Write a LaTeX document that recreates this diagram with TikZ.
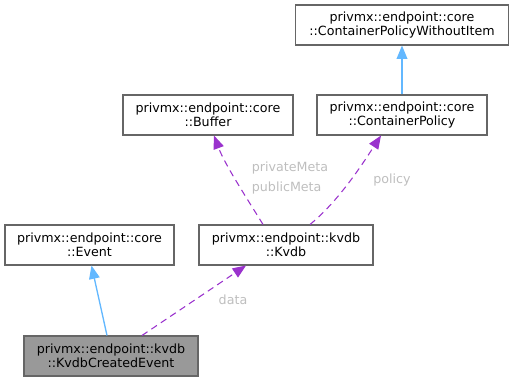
\documentclass[tikz,border=0pt]{standalone}
\usepackage{fontspec}
\setmainfont{DejaVu Sans}
\usetikzlibrary{arrows.meta}
\definecolor{inhblue}{HTML}{63B8FF}
\definecolor{usepurple}{HTML}{9A32CD}
\definecolor{lblgray}{HTML}{BEBEBE}
\definecolor{boxgray}{HTML}{666666}
\begin{document}
\begin{tikzpicture}[x=0.75pt,y=-0.75pt,
  cls/.style={draw=boxgray,line width=0.8pt,fill=white,inner sep=0pt,align=center,
    font=\fontsize{9.5}{10.6}\selectfont,text=black},
  inh/.style={draw=inhblue,line width=1pt,-{Triangle[length=10pt,width=8pt]}},
  use/.style={draw=usepurple,line width=0.8pt,dash pattern=on 5pt off 3.5pt,-{Triangle[length=10pt,width=8pt]}},
  lbl/.style={text=lblgray,font=\fontsize{9.5}{15}\selectfont,align=left}]
\useasboundingbox (0,0) rectangle (514,381);
\node[cls,minimum width=213*0.75pt,minimum height=40*0.75pt] (cpwi) at (402,25) {privmx::endpoint::core\\::ContainerPolicyWithoutItem};
\node[cls,minimum width=170*0.75pt,minimum height=40*0.75pt] (buf) at (208,115) {privmx::endpoint::core\\::Buffer};
\node[cls,minimum width=170*0.75pt,minimum height=40*0.75pt] (cp) at (402,115) {privmx::endpoint::core\\::ContainerPolicy};
\node[cls,minimum width=169*0.75pt,minimum height=40*0.75pt] (ev) at (89.5,245) {privmx::endpoint::core\\::Event};
\node[cls,minimum width=174*0.75pt,minimum height=40*0.75pt] (kv) at (286,245) {privmx::endpoint::kvdb\\::Kvdb};
\node[cls,fill={rgb,255:red,153;green,153;blue,153},minimum width=174*0.75pt,minimum height=40*0.75pt] (kce) at (111,356) {privmx::endpoint::kvdb\\::KvdbCreatedEvent};
\draw[inh] (cp.north) -- (cpwi.south);
\draw[inh] ([xshift=-4*0.75pt]kce.north) -- ([xshift=2*0.75pt]ev.south);
\draw[use] ([xshift=31*0.75pt]kce.north) -- ([xshift=-40*0.75pt]kv.south);
\draw[use] ([xshift=-23*0.75pt]kv.north) .. controls (248,200) and (225,165) .. ([xshift=6*0.75pt]buf.south);
\draw[use] ([xshift=24*0.75pt]kv.north) .. controls (340,200) and (365,160) .. ([xshift=-21*0.75pt]cp.south);
\node[lbl] (ldata) at (233,300) {data};
\node[lbl] (lmeta) at (290,178) {privateMeta\\publicMeta};
\node[lbl] (lpol) at (392,180) {policy};
\end{tikzpicture}
\end{document}
